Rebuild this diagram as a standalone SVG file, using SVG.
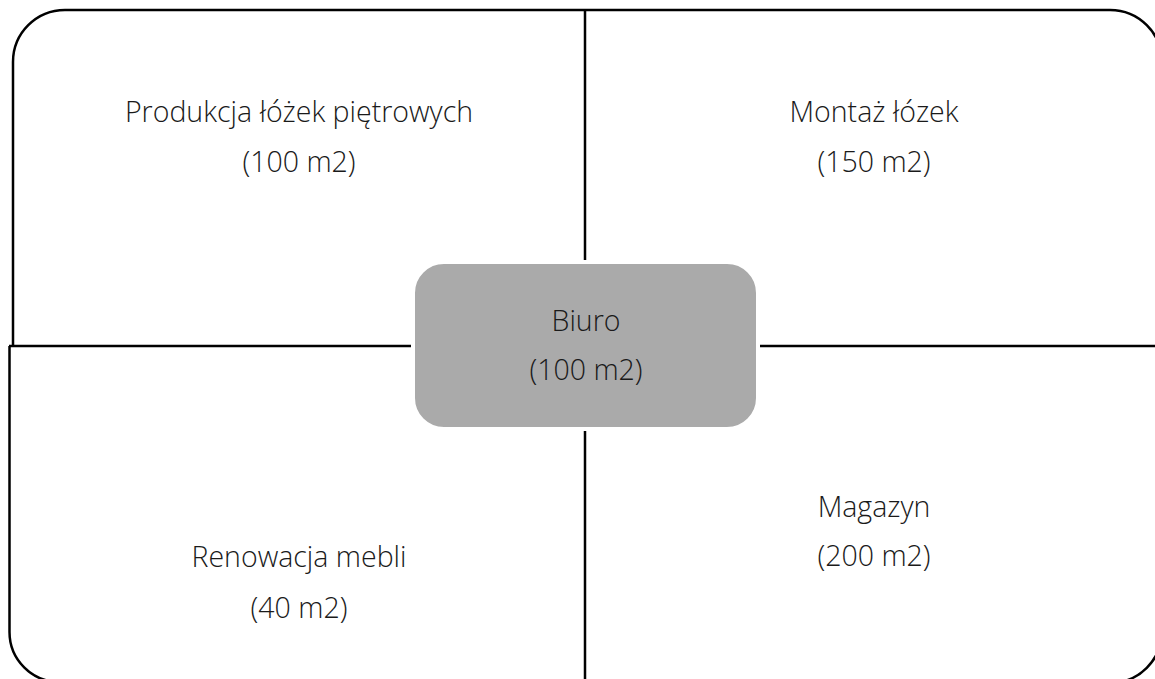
<svg xmlns="http://www.w3.org/2000/svg" width="1155" height="679" viewBox="0 0 1155 679">
<style>
.ln{fill:none;stroke:#000;stroke-width:2.5}
.t{font-family:"Open Sans","Noto Sans",sans-serif;font-weight:300;font-size:28.5px;fill:#1a1a1a;text-anchor:middle}
</style>
<rect width="1155" height="679" fill="#fff"/>
<g id="connectors">
<path class="ln" d="M13 346 V62 A52 52 0 0 1 65 10 H585"/>
<path class="ln" d="M585 10 H1110 A52 52 0 0 1 1162 62 V346"/>
<path class="ln" d="M9.5 346 V632 A50 50 0 0 0 59.5 682 H585"/>
<path class="ln" d="M585 683 H1110 A52 52 0 0 0 1162 631 V346"/>
<line class="ln" x1="585" y1="10" x2="585" y2="683"/>
<line class="ln" x1="9" y1="346" x2="1162" y2="346"/>
</g>
<g id="n1"><text class="t" x="299" y="122">Produkcja łóżek piętrowych</text><text class="t" x="299" y="172">(100 m2)</text></g>
<g id="n2"><text class="t" x="874" y="122">Montaż łózek</text><text class="t" x="874" y="172">(150 m2)</text></g>
<g id="n3"><rect x="413" y="262" width="345" height="167" rx="31" fill="#aaa" stroke="#fff" stroke-width="4"/><text class="t" x="586" y="331">Biuro</text><text class="t" x="586" y="380">(100 m2)</text></g>
<g id="n4"><text class="t" x="299" y="567">Renowacja mebli</text><text class="t" x="299" y="618">(40 m2)</text></g>
<g id="n5"><text class="t" x="874" y="517">Magazyn</text><text class="t" x="874" y="566">(200 m2)</text></g>
</svg>
